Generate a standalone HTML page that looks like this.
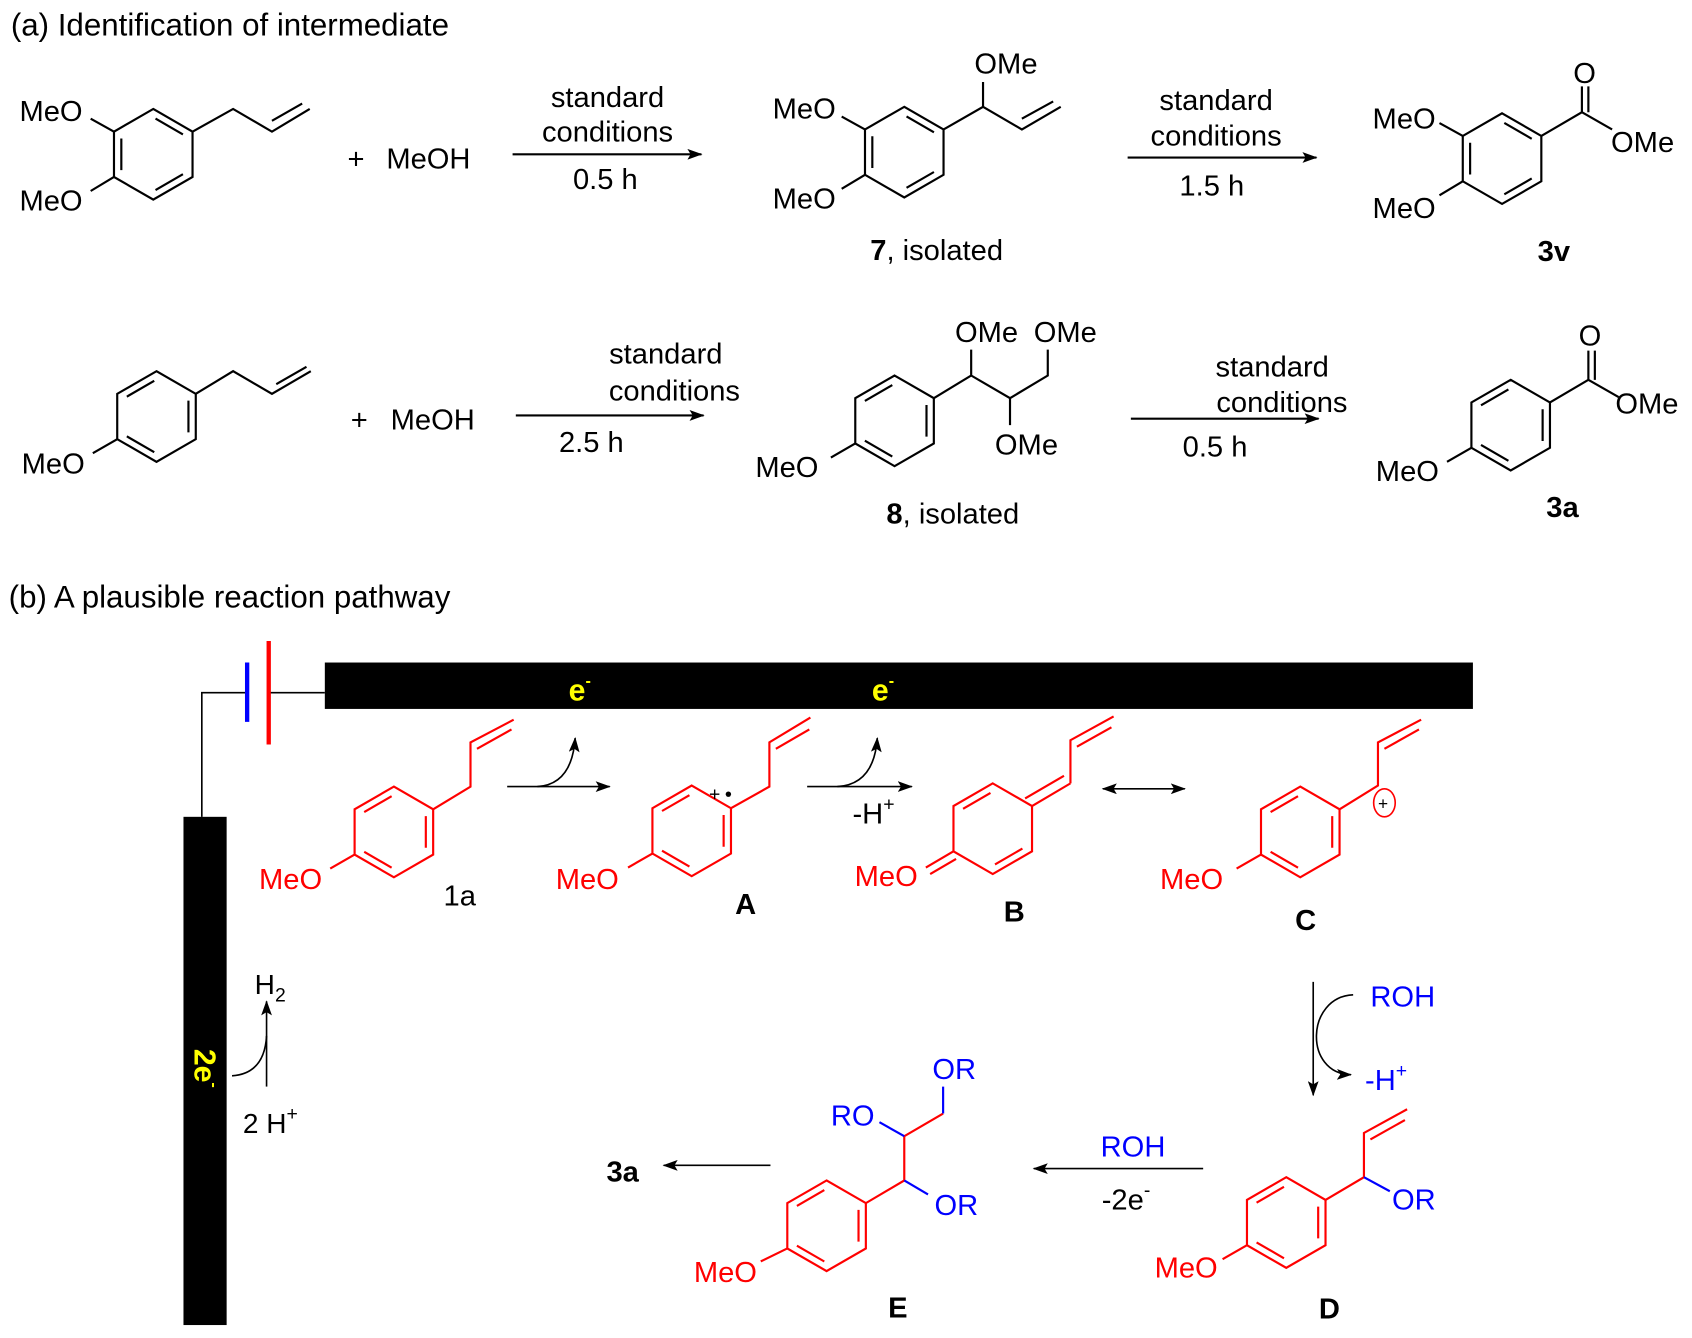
<!DOCTYPE html>
<html><head><meta charset="utf-8"><style>
html,body{margin:0;padding:0;background:#fff;}
svg{display:block;}
text{font-family:"Liberation Sans",Arial,sans-serif;}
</style></head><body>
<svg width="1692" height="1338" viewBox="0 0 1568 1240" xmlns="http://www.w3.org/2000/svg">
<defs>
<marker id="ah" markerWidth="14" markerHeight="10" refX="13" refY="5" orient="auto" markerUnits="userSpaceOnUse"><path d="M0,0 L14,5 L0,10 L3,5 Z" fill="#000"/></marker>
<marker id="ahs" markerWidth="14" markerHeight="10" refX="1" refY="5" orient="auto" markerUnits="userSpaceOnUse"><path d="M14,0 L0,5 L14,10 L11,5 Z" fill="#000"/></marker>
<g id="ra" fill="none">
<path d="M0,-42 L36.4,-21 L36.4,21 L0,42 L-36.4,21 L-36.4,-21 Z M2.1,-33.1 L27.5,-18.4 M-29.6,-14.7 L-29.6,14.7 M27.5,18.4 L2.1,33.1"/>
</g>
<g id="rb" fill="none">
<path d="M0,-42 L36.4,-21 L36.4,21 L0,42 L-36.4,21 L-36.4,-21 Z M-2.1,-33.1 L-27.5,-18.4 M29.6,-14.7 L29.6,14.7 M-27.5,18.4 L-2.1,33.1"/>
</g>
<g id="rq" fill="none">
<path d="M0,-42 L36.4,-21 L36.4,21 L0,42 L-36.4,21 L-36.4,-21 Z M-2.1,-33.1 L-27.5,-18.4 M27.5,18.4 L2.1,33.1"/>
</g>
</defs>

<g font-size="29" fill="#000">
<text x="10" y="33">(a) Identification of intermediate</text>
<text x="8" y="563">(b) A plausible reaction pathway</text>
</g>

<!-- ROW 1 -->
<g stroke="#000" stroke-width="2" fill="none">
<use href="#ra" x="142" y="143"/>
<path d="M105.6,122 L84,110 M105.6,164 L84,177 M178.4,122 L216,101 L252,122 L287,101 M252,112 L280,96"/>
<line x1="475" y1="143" x2="650" y2="143" marker-end="url(#ah)"/>
<use href="#ra" x="838" y="141"/>
<path d="M801.6,120 L780,108 M801.6,162 L780,175 M874.4,120 L911,99 L911,76 M911,99 L947,120 L983,99 M947,110 L976,94"/>
<line x1="1045" y1="146" x2="1220" y2="146" marker-end="url(#ah)"/>
<use href="#ra" x="1392" y="147"/>
<path d="M1355.6,126 L1334,114 M1355.6,168 L1334,181 M1428.4,126 L1466,104 L1466,80 M1472,104 L1472,80 M1466,104 L1494,120"/>
</g>
<g font-size="27" fill="#000">
<text x="18" y="112">MeO</text>
<text x="18" y="195">MeO</text>
<text x="322" y="156">+</text><text x="358" y="156">MeOH</text>
<text x="563" y="99" text-anchor="middle">standard</text>
<text x="563" y="131" text-anchor="middle">conditions</text>
<text x="561" y="175" text-anchor="middle">0.5 h</text>
<text x="903" y="68">OMe</text>
<text x="716" y="110">MeO</text>
<text x="716" y="193">MeO</text>
<text x="868" y="241" text-anchor="middle"><tspan font-weight="bold">7</tspan>, isolated</text>
<text x="1127" y="102" text-anchor="middle">standard</text>
<text x="1127" y="135" text-anchor="middle">conditions</text>
<text x="1123" y="181" text-anchor="middle">1.5 h</text>
<text x="1458" y="77">O</text>
<text x="1493" y="141">OMe</text>
<text x="1272" y="119">MeO</text>
<text x="1272" y="202">MeO</text>
<text x="1440" y="242" text-anchor="middle" font-weight="bold">3v</text>
</g>

<!-- ROW 2 -->
<g stroke="#000" stroke-width="2" fill="none">
<use href="#rb" x="145" y="386"/>
<path d="M108.6,407 L86,420 M181.4,365 L216,344 L252,365 L288,344 M256,356 L284,340"/>
<line x1="478" y1="385" x2="652" y2="385" marker-end="url(#ah)"/>
<use href="#rb" x="829" y="390"/>
<path d="M792.6,411 L770,424 M865.4,369 L900,348 L900,324 M900,348 L936,369 L936,394 M936,369 L971,348 L971,324"/>
<line x1="1048" y1="388" x2="1222" y2="388" marker-end="url(#ah)"/>
<use href="#rb" x="1400" y="394"/>
<path d="M1363.6,415 L1341,428 M1436.4,373 L1472,352 L1472,325 M1478,352 L1478,325 M1472,352 L1500,368"/>
</g>
<g font-size="27" fill="#000">
<text x="20" y="439">MeO</text>
<text x="325" y="398">+</text><text x="362" y="398">MeOH</text>
<text x="617" y="337" text-anchor="middle">standard</text>
<text x="625" y="371" text-anchor="middle">conditions</text>
<text x="548" y="419" text-anchor="middle">2.5 h</text>
<text x="885" y="317">OMe</text>
<text x="958" y="317">OMe</text>
<text x="922" y="421">OMe</text>
<text x="700" y="442">MeO</text>
<text x="883" y="485" text-anchor="middle"><tspan font-weight="bold">8</tspan>, isolated</text>
<text x="1179" y="349" text-anchor="middle">standard</text>
<text x="1188" y="382" text-anchor="middle">conditions</text>
<text x="1126" y="423" text-anchor="middle">0.5 h</text>
<text x="1463" y="320">O</text>
<text x="1497" y="383">OMe</text>
<text x="1275" y="446">MeO</text>
<text x="1448" y="479" text-anchor="middle" font-weight="bold">3a</text>
</g>

<!-- PART B electrodes -->
<rect x="301" y="614" width="1064" height="43" fill="#000"/>
<rect x="170" y="757" width="40" height="471" fill="#000"/>
<g stroke="#000" stroke-width="1.5" fill="none">
<path d="M187,757 L187,642 L229,642 M249,642 L301,642"/>
</g>
<line x1="229" y1="614" x2="229" y2="669" stroke="#0000ff" stroke-width="4"/>
<line x1="249" y1="594" x2="249" y2="690" stroke="#ff0000" stroke-width="4"/>
<g font-size="28" font-weight="bold" fill="#ffff00">
<text x="527" y="649">e<tspan font-size="15" dy="-13">-</tspan></text>
<text x="808" y="649">e<tspan font-size="15" dy="-13">-</tspan></text>
<text transform="translate(180,972) rotate(90)">2e<tspan font-size="15" dy="-13">-</tspan></text>
</g>

<!-- H2 -->
<g stroke="#000" stroke-width="1.5" fill="none">
<line x1="247" y1="1007" x2="247" y2="928" marker-end="url(#ah)"/>
<path d="M215,997 Q245,995 247,960"/>
</g>
<g font-size="26" fill="#000">
<text x="236" y="921">H<tspan font-size="18" dy="7">2</tspan></text>
<text x="225" y="1050">2 H<tspan font-size="18" dy="-12">+</tspan></text>
</g>

<!-- Row b molecules (red) -->
<g stroke="#ff0000" stroke-width="2" fill="none">
<use href="#rb" x="365" y="771"/>
<path d="M328.6,792 L306,805 M401.4,750 L436,729 L436,688 L476,667 M442,694 L474,676"/>
<use href="#rb" x="641" y="770"/>
<path d="M604.6,791 L582,804 M677.4,749 L713,729 L713,688 L751,665 M719,694 L750,676"/>
<use href="#rq" x="920" y="768"/>
<path d="M883.6,789 L858,804 M886,796 L862,810 M956.4,747 L992,726 M950,740 L986,719 M992,726 L992,686 L1032,664 M998,692 L1030,674"/>
<use href="#rb" x="1205" y="771"/>
<path d="M1168.6,792 L1146,805 M1241.4,750 L1277,728 L1277,688 L1317,667 M1283,694 L1315,676"/>
<ellipse cx="1283" cy="744" rx="10" ry="13" stroke-width="1.5"/>
<use href="#rb" x="1192" y="1133"/>
<path d="M1155.6,1154 L1133,1167 M1228.4,1112 L1264,1091 L1264,1050 L1304,1028 M1270,1056 L1302,1038"/>
<use href="#rb" x="766" y="1136"/>
<path d="M729.6,1157 L705,1169 M802.4,1115 L838,1094 L838,1053 L874,1032"/>
</g>
<g stroke="#0000ff" stroke-width="2" fill="none">
<path d="M1264,1091 L1288,1104"/>
<path d="M838,1094 L860,1107 M838,1053 L815,1040 M874,1032 L874,1007"/>
</g>
<g font-size="27" fill="#ff0000">
<text x="240" y="824">MeO</text>
<text x="515" y="824">MeO</text>
<text x="792" y="821">MeO</text>
<text x="1075" y="824">MeO</text>
<text x="1070" y="1184">MeO</text>
<text x="643" y="1188">MeO</text>
</g>
<g fill="#000" font-size="18"><text x="657" y="742">+</text><circle cx="675" cy="736" r="2.5"/></g>
<text x="1277" y="750" font-size="16" fill="#000">+</text>
<g font-size="27" fill="#0000ff">
<text x="1290" y="1121">OR</text>
<text x="866" y="1126">OR</text>
<text x="770" y="1043">RO</text>
<text x="864" y="1000">OR</text>
<text x="1270" y="933">ROH</text>
<text x="1265" y="1010">-H<tspan font-size="18" dy="-12">+</tspan></text>
<text x="1020" y="1072">ROH</text>
</g>

<!-- arrows in b -->
<g stroke="#000" stroke-width="1.5" fill="none">
<line x1="470" y1="729" x2="565" y2="729" marker-end="url(#ah)"/>
<path d="M498,729 Q530,727 533,684" marker-end="url(#ah)"/>
<line x1="748" y1="729" x2="845" y2="729" marker-end="url(#ah)"/>
<path d="M776,729 Q810,727 813,684" marker-end="url(#ah)"/>
<line x1="1022" y1="731" x2="1098" y2="731" marker-start="url(#ahs)" marker-end="url(#ah)"/>
<line x1="1217" y1="910" x2="1217" y2="1015" marker-end="url(#ah)"/>
<path d="M1254,922 C1210,924 1208,995 1252,996" marker-end="url(#ah)"/>
<line x1="1115" y1="1083" x2="958" y2="1083" marker-end="url(#ah)"/>
<line x1="714" y1="1080" x2="615" y2="1080" marker-end="url(#ah)"/>
</g>
<g font-size="27" fill="#000">
<text x="426" y="839" text-anchor="middle">1a</text>
<text x="790" y="763">-H<tspan font-size="18" dy="-12">+</tspan></text>
<text x="1021" y="1121">-2e<tspan font-size="18" dy="-12">-</tspan></text>
</g>
<g font-size="27" font-weight="bold" fill="#000">
<text x="691" y="847" text-anchor="middle">A</text>
<text x="940" y="854" text-anchor="middle">B</text>
<text x="1210" y="862" text-anchor="middle">C</text>
<text x="1232" y="1222" text-anchor="middle">D</text>
<text x="832" y="1221" text-anchor="middle">E</text>
<text x="562" y="1095">3a</text>
</g>
</svg>
</body></html>
